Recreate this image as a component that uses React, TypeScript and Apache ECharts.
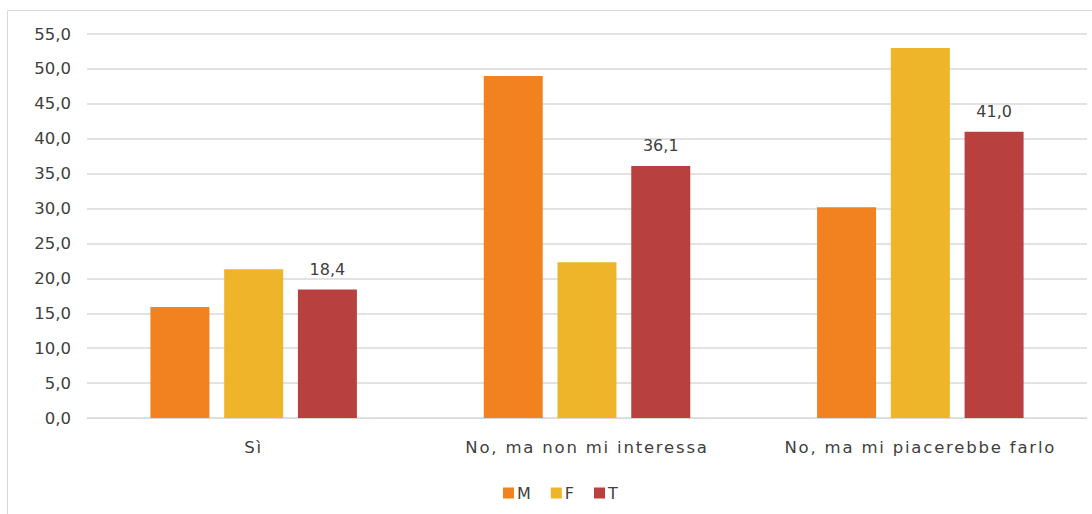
import React, { useEffect, useRef } from "react";
import * as echarts from "echarts";

const categories = ["Sì", "No, ma non mi interessa", "No, ma mi piacerebbe farlo"];
const seriesNames = ["M", "F", "T"];
const valuesM = [15.9, 49.0, 30.2];
const valuesF = [21.3, 22.3, 53.0];
const valuesT = [18.4, 36.1, 41.0];
const colors = ["#F28220", "#EFB52A", "#B8413F"];

const fmt = (v: number) => v.toFixed(1).replace(".", ",");

export default function App() {
  const ref = useRef<HTMLDivElement>(null);
  useEffect(() => {
    if (!ref.current) return;
    const chart = echarts.init(ref.current, null, { renderer: "svg" });
    const font = "'DejaVu Sans', sans-serif";
    const catFont = "'DejaVu Sans', xcat";
    const textColor = "#404040";
    const data = [valuesM, valuesF, valuesT];
    chart.setOption({
      animation: false,
      textStyle: { fontFamily: font },
      graphic: [
        {
          type: "rect",
          shape: { x: 7.5, y: 10.5, width: 1100, height: 520 },
          style: { fill: "none", stroke: "#d9d9d9", lineWidth: 1 },
          silent: true,
        },
      ],
      grid: { left: 87, right: 5, top: 34, bottom: 96, containLabel: false },
      legend: {
        data: seriesNames,
        bottom: 13,
        left: 503,
        itemWidth: 11,
        itemHeight: 11,
        itemGap: 20,
        icon: "rect",
        padding: 0,
        textStyle: { fontSize: 16, color: textColor, fontFamily: font, padding: [0, 0, 0, -2] },
      },
      xAxis: {
        type: "category",
        data: categories,
        axisLine: { show: true, lineStyle: { color: "#d9d9d9", width: 1 } },
        axisTick: { show: false },
        axisLabel: { fontSize: 16.5, color: textColor, margin: 21, fontFamily: catFont },
      },
      yAxis: {
        type: "value",
        min: 0,
        max: 55,
        interval: 5,
        axisLine: { show: false },
        axisTick: { show: false },
        splitLine: { lineStyle: { color: "#d9d9d9", width: 1.5 } },
        axisLabel: {
          fontSize: 16.5,
          color: textColor,
          margin: 16,
          fontFamily: font,
          formatter: (v: number) => fmt(v),
        },
      },
      series: seriesNames.map((name, i) => ({
        name,
        type: "bar",
        data: data[i],
        barWidth: 59,
        barGap: "25%",
        itemStyle: { color: colors[i] },
        label:
          i === 2
            ? {
                show: true,
                position: "top",
                distance: 12,
                fontSize: 16,
                color: textColor,
                fontFamily: font,
                formatter: (p: any) => fmt(p.value),
              }
            : { show: false },
      })),
    });
    return () => chart.dispose();
  }, []);
  return (
    <>
      <style>{`text[style*="xcat"]{letter-spacing:1.8px}`}</style>
      <div
        ref={ref}
        style={{ position: "fixed", left: 0, top: 0, width: 1092, height: 514, background: "#fff" }}
      />
    </>
  );
}
